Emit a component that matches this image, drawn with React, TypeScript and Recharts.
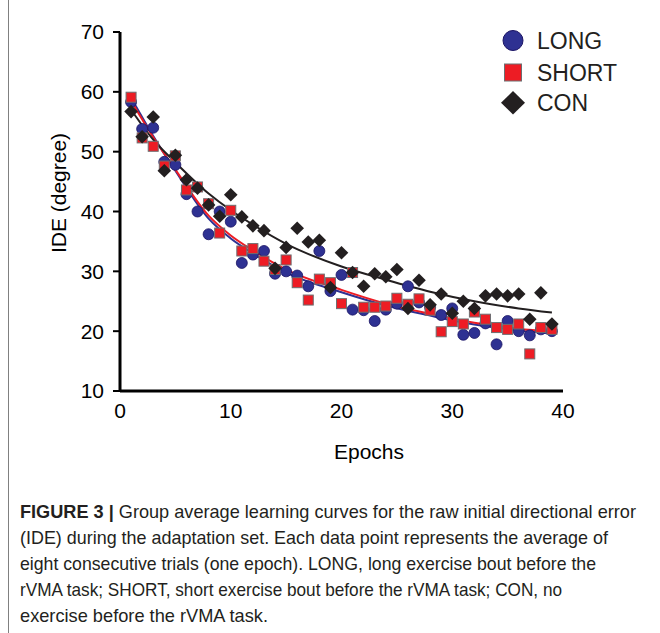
import React from "react";
import { ComposedChart, Scatter, Line, XAxis, YAxis } from "recharts";

// epochs (x) and group means
const epochs = [
  1, 2, 3, 4, 5, 6, 7, 8, 9, 10, 11, 12, 13, 14, 15, 16, 17, 18, 19, 20,
  21, 22, 23, 24, 25, 26, 27, 28, 29, 30, 31, 32, 33, 34, 35, 36, 37, 38, 39,
];
const longIde = [
  58.3, 53.8, 54.0, 48.3, 47.8, 42.9, 40.0, 36.2, 40.0, 38.3, 31.4, 32.8, 33.4,
  29.6, 30.0, 29.3, 27.5, 33.4, 26.7, 29.4, 23.6, 23.5, 21.7, 23.6, 24.6, 27.5,
  24.8, 24.0, 22.7, 23.8, 19.4, 19.7, 21.3, 17.8, 21.7, 20.0, 19.3, 20.3, 20.0,
];
const shortIde = [
  59.1, 52.3, 50.9, 47.6, 49.3, 43.6, 44.1, 41.3, 36.4, 40.2, 33.4, 33.8, 31.7,
  30.3, 31.9, 28.1, 25.2, 28.7, 28.1, 24.6, 29.8, 24.0, 24.0, 24.2, 25.5, 24.5,
  25.4, 23.5, 19.9, 21.6, 21.2, 23.2, 22.0, 20.6, 20.3, 21.2, 16.2, 20.6, 20.3,
];
const conIde = [
  56.7, 52.5, 55.8, 46.8, 49.4, 45.3, 43.9, 41.1, 39.2, 42.8, 39.1, 37.6, 36.8,
  30.5, 34.0, 37.2, 34.9, 35.2, 27.3, 33.1, 29.8, 27.5, 29.6, 29.1, 30.3, 23.8,
  28.5, 24.4, 26.2, 23.0, 25.0, 23.8, 25.9, 26.2, 25.9, 26.2, 22.0, 26.4, 21.2,
];

// trend lines, read at a few epochs
const fitEpochs = [1, 3, 5, 8, 10, 12, 15, 20, 24, 28, 32, 36, 39];
const longFit = [59.0, 52.6, 46.8, 38.8, 35.5, 33.0, 29.8, 26.5, 24.3, 22.6, 21.1, 20.1, 19.6];
const shortFit = [58.5, 52.4, 47.0, 39.3, 36.0, 33.5, 30.3, 26.9, 24.6, 22.9, 21.4, 20.4, 19.9];
const conFit = [57.0, 52.0, 48.2, 43.0, 40.2, 37.8, 34.6, 30.8, 28.6, 26.6, 25.0, 23.8, 23.1];

const xTicks = [0, 10, 20, 30, 40];
const yTicks = [10, 20, 30, 40, 50, 60, 70];

const captionLines = [
  "Group average learning curves for the raw initial directional error",
  "(IDE) during the adaptation set. Each data point represents the average of",
  "eight consecutive trials (one epoch). LONG, long exercise bout before the",
  "rVMA task; SHORT, short exercise bout before the rVMA task; CON, no",
  "exercise before the rVMA task.",
];
const captionWidths = [616, 588, 576, 542, 248];

const toPts = (xs: number[], ys: number[]) => xs.map((x, i) => ({ x, y: ys[i] }));

const BLUE = "#2E3192";
const RED = "#ED1C24";
const BLACK = "#231F20";
const FONT = "'Liberation Sans', Arial, sans-serif";

const Dot = (p: any) => (
  <circle cx={p.cx} cy={p.cy} r={5.5} fill={BLUE} stroke="#1B1464" strokeWidth={0.8} />
);
const Sq = (p: any) => (
  <rect x={p.cx - 5} y={p.cy - 5} width={10} height={10} fill={RED} stroke="#6D6E71" strokeWidth={1} />
);
const Dia = (p: any) => (
  <polygon
    points={`${p.cx},${p.cy - 6.8} ${p.cx + 6.8},${p.cy} ${p.cx},${p.cy + 6.8} ${p.cx - 6.8},${p.cy}`}
    fill={BLACK}
  />
);

export default function App() {
  const tick = { fill: "#000", fontSize: 21, fontFamily: FONT };
  return (
    <div style={{ position: "absolute", left: 0, top: 0, width: 660, height: 633, background: "#fff" }}>
      <ComposedChart
        width={660}
        height={470}
        margin={{ top: 32, right: 97, bottom: 49, left: 0 }}
      >
        <XAxis
          dataKey="x"
          type="number"
          domain={[0, 40]}
          ticks={xTicks}
          stroke="#000"
          tickLine={false}
          tickSize={6}
          tickMargin={6}
          axisLine={{ stroke: "#000", strokeWidth: 3 }}
          tick={tick}
          height={30}
          allowDuplicatedCategory={false}
        />
        <YAxis
          type="number"
          domain={[10, 70]}
          ticks={yTicks}
          width={120}
          stroke="#000"
          tickSize={7}
          tickMargin={9}
          tickLine={{ stroke: "#000", strokeWidth: 2 }}
          axisLine={{ stroke: "#000", strokeWidth: 3 }}
          tick={tick}
        />
        <Scatter data={toPts(epochs, longIde)} dataKey="y" shape={Dot} isAnimationActive={false} />
        <Scatter data={toPts(epochs, shortIde)} dataKey="y" shape={Sq} isAnimationActive={false} />
        <Scatter data={toPts(epochs, conIde)} dataKey="y" shape={Dia} isAnimationActive={false} />
        <Line data={toPts(fitEpochs, longFit)} dataKey="y" type="monotone" stroke={BLUE} strokeWidth={2} dot={false} isAnimationActive={false} />
        <Line data={toPts(fitEpochs, shortFit)} dataKey="y" type="monotone" stroke={RED} strokeWidth={2} dot={false} isAnimationActive={false} />
        <Line data={toPts(fitEpochs, conFit)} dataKey="y" type="monotone" stroke={BLACK} strokeWidth={2} dot={false} isAnimationActive={false} />
      </ComposedChart>

      <svg
        width={660}
        height={633}
        style={{ position: "absolute", left: 0, top: 0, pointerEvents: "none" }}
        fontFamily={FONT}
      >
        <line x1={8.5} y1={0} x2={8.5} y2={633} stroke="#808080" strokeWidth={1} />
        <text x={58} y={193} transform="rotate(-90 58 193)" textAnchor="middle" dominantBaseline="central" fontSize={21} fill="#000">
          IDE (degree)
        </text>
        <text x={369} y={451} textAnchor="middle" dominantBaseline="central" fontSize={21} fill="#000">
          Epochs
        </text>

        <circle cx={513} cy={40.5} r={10} fill={BLUE} stroke="#1B1464" strokeWidth={1} />
        <rect x={504.5} y={64} width={17} height={17} fill={RED} stroke="#6D6E71" strokeWidth={1} />
        <polygon points="513,91 525,102.7 513,114.4 501,102.7" fill={BLACK} />
        <text x={537} y={48.7} fontSize={23} fill={BLACK}>LONG</text>
        <text x={537} y={80.7} fontSize={23} fill={BLACK}>SHORT</text>
        <text x={537} y={110.7} fontSize={23} fill={BLACK}>CON</text>

        {captionLines.map((line, i) => (
          <text
            key={i}
            x={20}
            y={518 + i * 26}
            fontSize={18.5}
            fill={BLACK}
            textLength={captionWidths[i]}
            lengthAdjust="spacingAndGlyphs"
          >
            {i === 0 ? (
              <>
                <tspan fontWeight="bold">FIGURE 3 |</tspan> {line}
              </>
            ) : (
              line
            )}
          </text>
        ))}
      </svg>
    </div>
  );
}
